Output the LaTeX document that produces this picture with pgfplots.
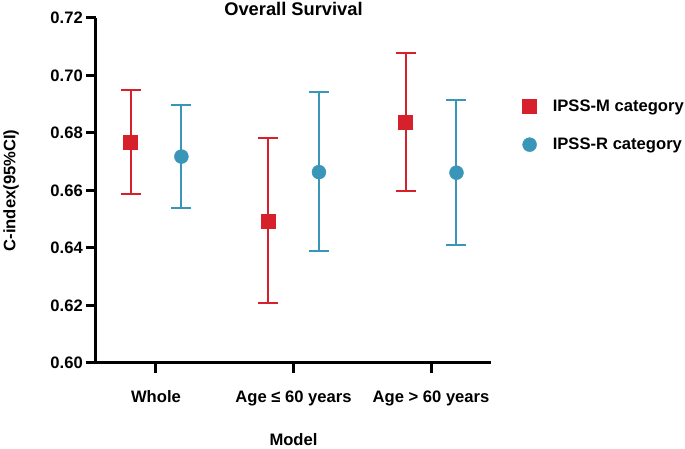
\documentclass[border=0pt]{standalone}
\usepackage{pgfplots}
\pgfplotsset{compat=1.18}
\usepackage{pgfplotstable}
\usepackage{fontspec}
\setmainfont{Liberation Sans}

\definecolor{ipssm}{RGB}{214,32,44}
\definecolor{ipssr}{RGB}{58,150,184}

% x = category position (0 Whole, 1 Age<=60, 2 Age>60), offset per series
\pgfplotstableread{
x       y       lo      hi
-0.185  0.6768  0.6589  0.6949
 0.815  0.6494  0.6208  0.6784
 1.815  0.6838  0.6597  0.7078
}\ipssM
\pgfplotstableread{
x       y       lo      hi
 0.185  0.6718  0.6538  0.6897
 1.185  0.6664  0.6389  0.6943
 2.185  0.6662  0.6410  0.6915
}\ipssR

\begin{document}
\begin{tikzpicture}
\begin{axis}[
    name=ax,
    scale only axis,
    width=395pt, height=345pt,
    font=\fontsize{16.6}{19}\selectfont\bfseries,
    xmin=-0.436, xmax=2.436,
    ymin=0.60, ymax=0.72,
    axis x line*=bottom, axis y line*=left,
    axis line style={line width=3pt, black, -},
    xtick={0,1,2},
    xticklabels={Whole, Age ≤ 60 years, Age > 60 years},
    ytick={0.60,0.62,0.64,0.66,0.68,0.70,0.72},
    /pgf/number format/fixed,
    /pgf/number format/fixed zerofill,
    /pgf/number format/precision=2,
    /pgf/number format/assume math mode=true,
    tick style={line width=3pt, black},
    tick align=outside,
    major tick length=10pt,
    xticklabel style={anchor=base, inner sep=0pt, yshift=-30pt},
    yticklabel style={anchor=east, inner sep=0pt, xshift=-3pt},
    title={Overall Survival},
    title style={at={(0.5,1)}, anchor=base, yshift=-4pt, inner sep=0pt, font=\fontsize{18.3}{21}\selectfont\bfseries},
    xlabel={Model},
    xlabel style={at={(0.5,0)}, anchor=base, yshift=-83pt, inner sep=0pt},
    ylabel={C-index(95\%CI)},
    ylabel style={at={(-0.235,0.5)}, anchor=north, inner sep=0pt},
    clip=false,
    legend style={at={(1.079,0.688)}, anchor=west, draw=none, fill=none,
        inner sep=0pt, row sep=24pt, nodes={inner sep=0pt, anchor=west}},
    legend cell align=left,
    legend image code/.code={
        \path (0pt,0pt) (30pt,0pt);
        \draw[#1] plot coordinates {(7pt,0pt)};
    },
]
\addplot[only marks, mark=square*, mark size=7pt, color=ipssm,
    error bars/.cd, y dir=both, y explicit,
    error mark=-, error mark options={rotate=90, line width=2pt, mark size=10pt, ipssm},
    error bar style={line width=2pt, ipssm}]
    table[x=x, y=y, y error plus expr=\thisrow{hi}-\thisrow{y}, y error minus expr=\thisrow{y}-\thisrow{lo}] {\ipssM};
\addlegendentry{IPSS-M category}

\addplot[only marks, mark=*, mark size=7pt, color=ipssr,
    error bars/.cd, y dir=both, y explicit,
    error mark=-, error mark options={rotate=90, line width=2pt, mark size=10pt, ipssr},
    error bar style={line width=2pt, ipssr}]
    table[x=x, y=y, y error plus expr=\thisrow{hi}-\thisrow{y}, y error minus expr=\thisrow{y}-\thisrow{lo}] {\ipssR};
\addlegendentry{IPSS-R category}
\end{axis}
\pgfresetboundingbox
\path ([xshift=-96pt,yshift=-86pt]ax.south west) rectangle ([xshift=194pt,yshift=18pt]ax.north east);
\end{tikzpicture}
\end{document}
